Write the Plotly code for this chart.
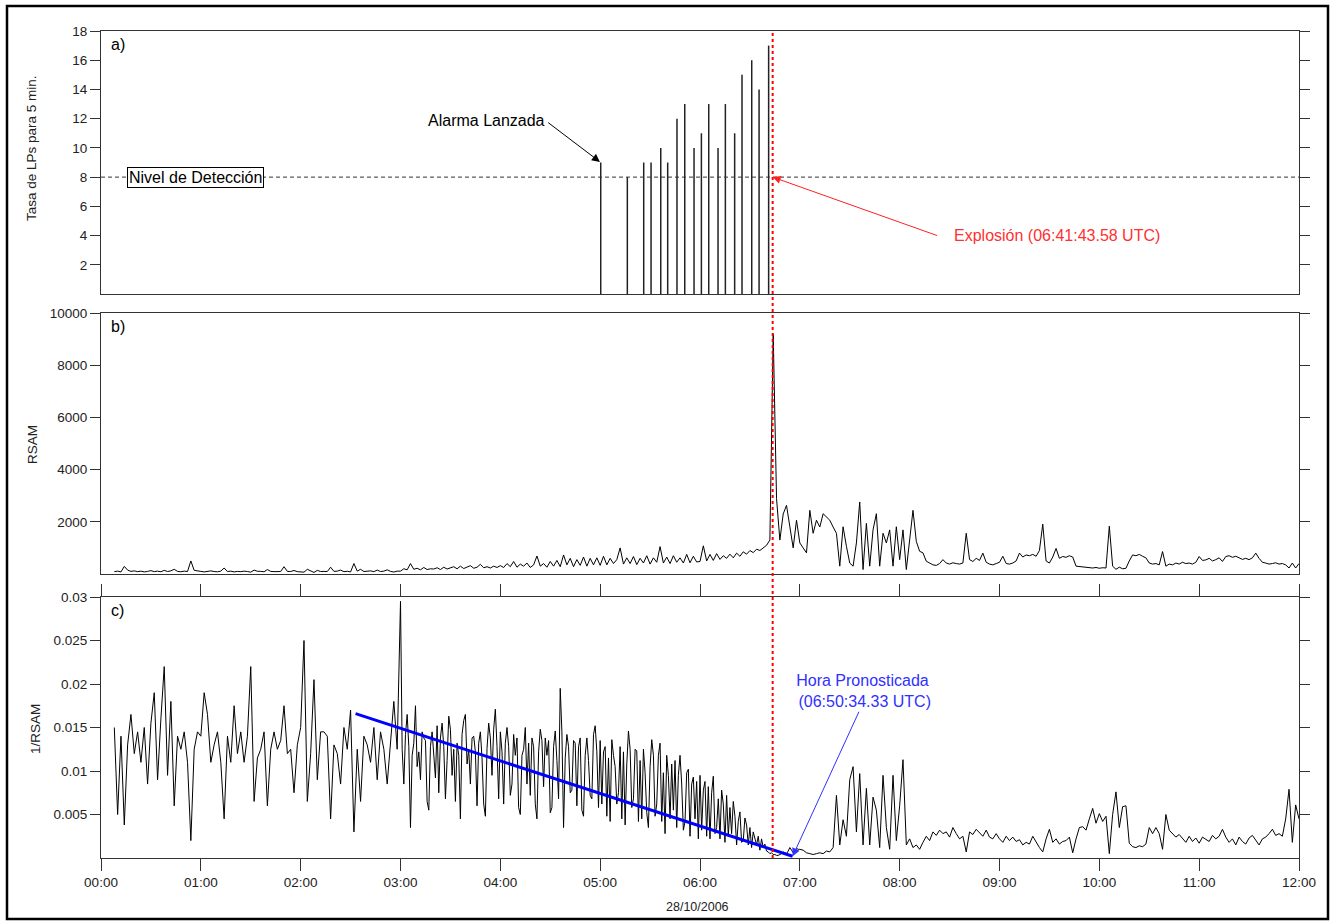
import pandas as pd
import plotly.graph_objects as go

# ---------------- data ----------------
DAY = "2006-10-28"
X_START = "2006-10-28 00:00"
X_END = "2006-10-28 12:00"

# panel a: LP rate per 5 min (stems)
LP_TIMES = ["2006-10-28 05:00:20", "2006-10-28 05:16:20", "2006-10-28 05:26:10",
            "2006-10-28 05:30:35", "2006-10-28 05:36:25", "2006-10-28 05:40:35",
            "2006-10-28 05:46:10", "2006-10-28 05:50:50", "2006-10-28 05:56:25",
            "2006-10-28 06:00:50", "2006-10-28 06:05:15", "2006-10-28 06:10:50",
            "2006-10-28 06:15:15", "2006-10-28 06:20:50", "2006-10-28 06:25:15",
            "2006-10-28 06:31:05", "2006-10-28 06:35:30", "2006-10-28 06:41:15"]
LP_RATES = [9, 8, 9, 9, 10, 9, 12, 13, 10, 11, 13, 10, 13, 11, 15, 16, 14, 17]
DETECTION_LEVEL = 8

# panel b: RSAM, 2-minute samples from 00:08 to 12:00, one list per hour
RSAM_H00 = [90, 110, 80, 290, 150, 100, 120, 90, 110, 80, 100, 130, 90, 110, 85,
            140, 95, 120, 180, 100, 85, 110, 95, 500, 140, 110]
RSAM_H01 = [100, 80, 90, 120, 95, 85, 110, 230, 95, 110, 80, 100, 90, 110, 95,
            70, 150, 105, 100, 85, 170, 100, 90, 100, 95, 280, 100, 95, 135, 90]
RSAM_H02 = [90, 70, 180, 110, 60, 140, 95, 100, 95, 260, 100, 110, 150, 90, 105,
            80, 400, 110, 180, 95, 100, 120, 90, 150, 95, 110, 160, 100, 75, 110]
RSAM_H03 = [110, 200, 160, 400, 180, 220, 160, 250, 170, 200, 190, 240, 170, 260, 190,
            230, 280, 200, 300, 210, 250, 320, 220, 260, 370, 240, 280, 230, 300, 250]
RSAM_H04 = [320, 250, 400, 280, 480, 260, 380, 300, 420, 250, 350, 690, 300, 400, 260,
            480, 300, 520, 280, 730, 350, 600, 280, 550, 330, 650, 300, 600, 350, 620]
RSAM_H05 = [330, 680, 350, 600, 400, 550, 1000, 380, 620, 400, 670, 360, 600, 420, 700,
            380, 620, 450, 1050, 420, 650, 400, 700, 450, 620, 420, 750, 430, 680, 460]
RSAM_H06 = [480, 1080, 500, 750, 520, 780, 560, 700, 600, 760, 620, 800, 680, 850, 760,
            900, 820, 950, 900, 1000, 1100, 1300, 9200, 2890, 1300, 2300, 2630, 1810, 1000, 2060]
RSAM_H07 = [1190, 1000, 810, 2440, 1560, 2060, 1800, 2310, 2190, 2060, 1800, 1560, 300, 1810, 1060,
            420, 300, 1190, 2760, 170, 1940, 300, 1690, 2310, 300, 1560, 1190, 1690, 300, 1810]
RSAM_H08 = [550, 1690, 170, 1250, 2440, 1250, 870, 810, 490, 420, 350, 330, 400, 550, 420,
            380, 430, 400, 380, 420, 1560, 550, 480, 600, 520, 800, 450, 380, 350, 400]
RSAM_H09 = [450, 680, 400, 380, 420, 500, 800, 650, 730, 700, 750, 680, 900, 1910, 500,
            420, 650, 980, 600, 670, 640, 700, 650, 300, 290, 270, 260, 240, 230, 250]
RSAM_H10 = [220, 240, 230, 1830, 300, 180, 260, 200, 220, 500, 730, 700, 750, 680, 620,
            420, 380, 400, 350, 860, 300, 380, 350, 420, 380, 450, 400, 420, 380, 450]
RSAM_H11 = [670, 520, 540, 600, 500, 550, 620, 480, 670, 700, 640, 680, 620, 560, 600,
            550, 620, 800, 600, 450, 420, 380, 400, 430, 380, 400, 350, 230, 420, 230]
RSAM_H12 = [400]

# panel c: 1/RSAM; 2-minute samples 00:08-02:58, 1-minute 03:00-06:59, 2-minute 07:00-12:00
INV_H00 = [0.015, 0.005, 0.014, 0.0038, 0.013, 0.0165, 0.012, 0.0145, 0.011, 0.015,
           0.0085, 0.0155, 0.019, 0.009, 0.016, 0.022, 0.0095, 0.018, 0.006, 0.014,
           0.0125, 0.0145, 0.011, 0.002, 0.0125, 0.0145]
INV_H01 = [0.014, 0.019, 0.0165, 0.011, 0.013, 0.0145, 0.011, 0.0045, 0.014, 0.011,
           0.0175, 0.012, 0.0145, 0.011, 0.014, 0.022, 0.0065, 0.0115, 0.0125, 0.0145,
           0.006, 0.0125, 0.0145, 0.0125, 0.0135, 0.0175, 0.012, 0.0125, 0.0075, 0.013]
INV_H02 = [0.015, 0.025, 0.0065, 0.012, 0.0205, 0.009, 0.0145, 0.0145, 0.014, 0.0045,
           0.013, 0.012, 0.0085, 0.015, 0.0125, 0.017, 0.003, 0.0125, 0.0065, 0.014,
           0.013, 0.011, 0.015, 0.009, 0.0145, 0.0125, 0.0085, 0.0135, 0.018, 0.0125]
INV_H03 = [0.0295, 0.0125, 0.0085, 0.0142, 0.0165, 0.0128, 0.0035, 0.0118, 0.0132, 0.0175,
           0.0105, 0.0122, 0.009, 0.0145, 0.0138, 0.0135, 0.0065, 0.0055, 0.0128, 0.0145,
           0.0118, 0.0092, 0.0152, 0.0075, 0.0138, 0.0155, 0.0128, 0.0068, 0.0112, 0.0163,
           0.0148, 0.0095, 0.0125, 0.0065, 0.0132, 0.0118, 0.0045, 0.0142, 0.0158, 0.0165,
           0.0108, 0.0125, 0.0085, 0.0138, 0.014, 0.0122, 0.006, 0.0132, 0.0145, 0.0115,
           0.0062, 0.0048, 0.0126, 0.0155, 0.0138, 0.0095, 0.0148, 0.0171, 0.0128, 0.0068]
INV_H04 = [0.0145, 0.0122, 0.0062, 0.0132, 0.015, 0.0128, 0.0072, 0.0085, 0.0142, 0.0118,
           0.0138, 0.0058, 0.005, 0.0118, 0.0125, 0.015, 0.0085, 0.0132, 0.0072, 0.0138,
           0.0128, 0.0062, 0.0045, 0.0122, 0.0148, 0.0135, 0.0082, 0.0138, 0.0118, 0.0135,
           0.0052, 0.0058, 0.0128, 0.0146, 0.0112, 0.0068, 0.0195, 0.0145, 0.0035, 0.0115,
           0.0142, 0.0128, 0.0075, 0.0078, 0.0135, 0.0132, 0.006, 0.0128, 0.0138, 0.0055,
           0.0048, 0.0118, 0.0138, 0.0112, 0.0072, 0.0068, 0.0142, 0.0152, 0.0122, 0.0058]
INV_H05 = [0.0135, 0.0062, 0.0122, 0.0128, 0.0048, 0.0115, 0.0042, 0.0136, 0.0118, 0.0105,
           0.0062, 0.0075, 0.0128, 0.0045, 0.0122, 0.0038, 0.0108, 0.0146, 0.0125, 0.0058,
           0.0068, 0.0125, 0.0123, 0.0042, 0.0112, 0.0045, 0.0125, 0.0098, 0.0052, 0.0035,
           0.0105, 0.0136, 0.0118, 0.0048, 0.0062, 0.0118, 0.0132, 0.0042, 0.0098, 0.0028,
           0.0118, 0.0095, 0.0045, 0.0108, 0.0055, 0.0112, 0.0035, 0.0095, 0.0118, 0.0085,
           0.0032, 0.0042, 0.0098, 0.0102, 0.0025, 0.0085, 0.0093, 0.0045, 0.0088, 0.0022]
INV_H06 = [0.0095, 0.0032, 0.0078, 0.0088, 0.0025, 0.0082, 0.0022, 0.0075, 0.0094, 0.0028,
           0.0035, 0.0068, 0.0022, 0.0078, 0.0062, 0.0018, 0.0072, 0.0025, 0.0058, 0.0028,
           0.0065, 0.0048, 0.0015, 0.0042, 0.0053, 0.0018, 0.002, 0.0046, 0.0038, 0.0015,
           0.0035, 0.0012, 0.003, 0.0022, 0.0015, 0.0025, 0.0009, 0.0022, 0.0012, 0.0016,
           0.0008, 0.0007, 0.0005, 0.0006, 0.0004, 0.0004, 0.0003, 0.0003, 0.0004, 0.0005,
           0.0007, 0.0006, 0.0005, 0.0008, 0.0012, 0.0009, 0.0006, 0.0008, 0.0011, 0.001]
INV_H07 = [0.001, 0.0009, 0.0006, 0.0005, 0.0004, 0.0005, 0.0006, 0.0005, 0.0008, 0.0007,
           0.0012, 0.0072, 0.0015, 0.0044, 0.0025, 0.009, 0.0105, 0.003, 0.0097, 0.0015,
           0.008, 0.0015, 0.007, 0.0055, 0.0012, 0.0095, 0.0035, 0.001, 0.0095, 0.002]
INV_H08 = [0.006, 0.0113, 0.0015, 0.0022, 0.0012, 0.0015, 0.001, 0.0018, 0.0025, 0.002,
           0.003, 0.0026, 0.0032, 0.0028, 0.003, 0.0024, 0.0035, 0.0028, 0.0022, 0.0025,
           0.0007, 0.003, 0.0027, 0.0033, 0.0029, 0.0025, 0.0032, 0.0024, 0.0022, 0.0028]
INV_H09 = [0.0022, 0.0018, 0.0025, 0.002, 0.0024, 0.0019, 0.0021, 0.0015, 0.0018, 0.0016,
           0.0025, 0.0018, 0.0012, 0.0007, 0.0022, 0.0033, 0.0018, 0.0022, 0.0016, 0.0019,
           0.002, 0.0024, 0.0006, 0.0022, 0.0035, 0.0036, 0.0032, 0.0045, 0.0057, 0.004]
INV_H10 = [0.0051, 0.0042, 0.0048, 0.0005, 0.005, 0.0076, 0.0035, 0.0059, 0.006, 0.0017,
           0.0013, 0.0012, 0.0014, 0.0013, 0.0016, 0.0035, 0.0028, 0.0035, 0.0028, 0.001,
           0.005, 0.0032, 0.0028, 0.0024, 0.0027, 0.0022, 0.0018, 0.0025, 0.0019, 0.0023]
INV_H11 = [0.0017, 0.0024, 0.0021, 0.0019, 0.0026, 0.0022, 0.0025, 0.0033, 0.0024, 0.0018,
           0.0022, 0.0015, 0.0024, 0.0019, 0.0016, 0.0023, 0.0026, 0.0021, 0.0015, 0.0022,
           0.0024, 0.0028, 0.0033, 0.0026, 0.0028, 0.0025, 0.0045, 0.0079, 0.0018, 0.0061]
INV_H12 = [0.0045]

# linear forecast fit in panel c
FIT_TIMES = ["2006-10-28 02:33:00", "2006-10-28 06:55:40"]
FIT_VALUES = [0.0166, 0.0002]

EXPLOSION_TIME = "2006-10-28 06:43:40"
ALARM_TIME = LP_TIMES[0]
ALARM_RATE = LP_RATES[0]

HOUR_TICKS = [f"{DAY} {h:02d}:00" for h in range(13)]
HOUR_LABELS = [f"{h:02d}:00" for h in range(13)]
A_TICKS = [2, 4, 6, 8, 10, 12, 14, 16, 18]
B_TICKS = [2000, 4000, 6000, 8000, 10000]
C_TICKS = [0.005, 0.01, 0.015, 0.02, 0.025, 0.03]
C_LABELS = ["0.005", "0.01", "0.015", "0.02", "0.025", "0.03"]

RSAM = (RSAM_H00 + RSAM_H01 + RSAM_H02 + RSAM_H03 + RSAM_H04 + RSAM_H05 + RSAM_H06
        + RSAM_H07 + RSAM_H08 + RSAM_H09 + RSAM_H10 + RSAM_H11 + RSAM_H12)
RSAM_TIMES = pd.date_range(f"{DAY} 00:08", f"{DAY} 12:00", freq="2min")

INV_RSAM = (INV_H00 + INV_H01 + INV_H02 + INV_H03 + INV_H04 + INV_H05 + INV_H06
            + INV_H07 + INV_H08 + INV_H09 + INV_H10 + INV_H11 + INV_H12)
INV_TIMES = (list(pd.date_range(f"{DAY} 00:08", f"{DAY} 02:58", freq="2min"))
             + list(pd.date_range(f"{DAY} 03:00", f"{DAY} 06:59", freq="1min"))
             + list(pd.date_range(f"{DAY} 07:00", f"{DAY} 12:00", freq="2min")))
assert len(RSAM_TIMES) == len(RSAM), (len(RSAM_TIMES), len(RSAM))
assert len(INV_TIMES) == len(INV_RSAM), (len(INV_TIMES), len(INV_RSAM))

# ---------------- figure ----------------
FONT = "Liberation Sans, Arial, sans-serif"
AX = "#333333"
TXT = "#222222"
W, H = 1333, 923
ML, MR, MT, MB = 101, 34, 31, 65
PW, PH = W - ML - MR, H - MT - MB


def px(xp):
    return (xp - ML) / PW


def py(yp):
    return (H - MB - yp) / PH


fig = go.Figure()

stem_x, stem_y = [], []
for t, v in zip(LP_TIMES, LP_RATES):
    stem_x += [t, t, None]
    stem_y += [0, v, None]
fig.add_trace(go.Scatter(x=stem_x, y=stem_y, mode="lines", xaxis="x", yaxis="y",
                         line=dict(color="#222222", width=1.5), hoverinfo="skip"))

fig.add_trace(go.Scatter(x=RSAM_TIMES, y=RSAM, mode="lines", xaxis="x2", yaxis="y2",
                         line=dict(color="#000000", width=1)))

fig.add_trace(go.Scatter(x=INV_TIMES, y=INV_RSAM, mode="lines", xaxis="x3", yaxis="y3",
                         line=dict(color="#000000", width=1)))
fig.add_trace(go.Scatter(x=FIT_TIMES, y=FIT_VALUES, mode="lines", xaxis="x3", yaxis="y3",
                         line=dict(color="#0000ff", width=3)))

TICKFONT = dict(family=FONT, size=13.5, color=TXT)
xbase = dict(range=[X_START, X_END], type="date", showgrid=False, zeroline=False,
             showline=True, linecolor=AX, linewidth=1.2, mirror=True, tickfont=TICKFONT)
ybase = dict(showgrid=False, zeroline=False, showline=True, linecolor=AX, linewidth=1.2,
             mirror="ticks", ticks="outside", ticklen=10, tickcolor=AX, tickwidth=1,
             tickfont=TICKFONT)

fig.update_layout(
    width=W, height=H,
    margin=dict(l=ML, r=MR, t=MT, b=MB),
    paper_bgcolor="white", plot_bgcolor="white",
    showlegend=False,
    font=dict(family=FONT, color=TXT),
    xaxis=dict(xbase, anchor="y", domain=[0, 1], showticklabels=False, ticks=""),
    xaxis2=dict(xbase, anchor="y2", domain=[0, 1], showticklabels=False, ticks=""),
    xaxis3=dict(xbase, anchor="y3", domain=[0, 1], tickvals=HOUR_TICKS, ticktext=HOUR_LABELS,
                ticks="outside", ticklen=12, tickcolor=AX, tickwidth=1, mirror="ticks"),
    yaxis=dict(ybase, anchor="x", domain=[py(294), 1], range=[0, 18], tickvals=A_TICKS),
    yaxis2=dict(ybase, anchor="x2", domain=[py(574), py(313)], range=[0, 10000],
                tickvals=B_TICKS, ticktext=[str(v) for v in B_TICKS]),
    yaxis3=dict(ybase, anchor="x3", domain=[0, py(597)], range=[0, 0.03],
                tickvals=C_TICKS, ticktext=C_LABELS),
)

shapes = [
    dict(type="line", xref="x domain", yref="y", x0=0, x1=1, y0=DETECTION_LEVEL,
         y1=DETECTION_LEVEL, line=dict(color="#333333", width=1, dash="4px,3px")),
    dict(type="line", xref="x3", yref="paper", x0=EXPLOSION_TIME, x1=EXPLOSION_TIME,
         y0=0, y1=1, line=dict(color="#ff0000", width=2, dash="dot")),
    dict(type="rect", xref="paper", yref="paper", x0=px(7), x1=px(1328), y0=py(919), y1=py(6),
         line=dict(color="#000000", width=2.5), fillcolor="rgba(0,0,0,0)"),
]
fig.update_layout(shapes=shapes)


def label(text, x, y, size=16, color="#000", angle=0, **kw):
    d = dict(text=text, xref="paper", yref="paper", x=x, y=y, xanchor="center",
             yanchor="middle", showarrow=False, textangle=angle,
             font=dict(family=FONT, size=size, color=color))
    d.update(kw)
    return d


ann = []
# panel labels
for lab, yr in (("a)", "y"), ("b)", "y2"), ("c)", "y3")):
    xr = "x" if yr == "y" else "x" + yr[1:]
    ann.append(dict(text=lab, xref=f"{xr} domain", yref=f"{yr} domain", x=0.007, y=0.99,
                    xanchor="left", yanchor="top", showarrow=False,
                    font=dict(family=FONT, size=16, color="#000")))
# axis titles
ann.append(label("Tasa de LPs para 5 min.", px(31), py(148), size=13.5, color=TXT, angle=-90))
ann.append(label("RSAM", px(32), py(445), size=13.5, color=TXT, angle=-90))
ann.append(label("1/RSAM", px(35), py(729), size=13.5, color=TXT, angle=-90))
ann.append(label("28/10/2006", px(697), py(907), size=12.5, color=TXT))
# detection level box
ann.append(dict(text="Nivel de Detección", xref="x domain", yref="y", x=px(195), y=DETECTION_LEVEL,
                xanchor="center", yanchor="middle",
                showarrow=False, bgcolor="white", bordercolor="#000000", borderwidth=1, borderpad=1,
                font=dict(family=FONT, size=16, color="#000")))
# alarm
ann.append(label("Alarma Lanzada", px(486), py(121)))
ann.append(dict(text="", xref="x", yref="y", x=ALARM_TIME, y=ALARM_RATE, ax=-54, ay=-41,
                showarrow=True, arrowhead=2, arrowsize=1.6, arrowwidth=1, arrowcolor="#000",
                standoff=1))
# explosion
ann.append(label("Explosión (06:41:43.58 UTC)", px(1057), py(236), color="#ff3030"))
ann.append(dict(text="", xref="x", yref="y", x=EXPLOSION_TIME, y=DETECTION_LEVEL, ax=166, ay=59,
                showarrow=True, arrowhead=2, arrowsize=1.6, arrowwidth=1, arrowcolor="#ff2020",
                standoff=0))
# forecast
ann.append(label("Hora Pronosticada<br> (06:50:34.33 UTC)", px(862), py(691), color="#3030ff"))
ann.append(dict(text="", xref="x3", yref="y3", x=FIT_TIMES[1], y=FIT_VALUES[1], ax=67, ay=-146,
                showarrow=True, arrowhead=2, arrowsize=1.6, arrowwidth=1, arrowcolor="#3030ff",
                standoff=0))
fig.update_layout(annotations=ann)

fig.write_html("out.html", config={"displayModeBar": False},
               post_script="document.body.style.margin='0px';document.body.style.overflow='hidden';")
